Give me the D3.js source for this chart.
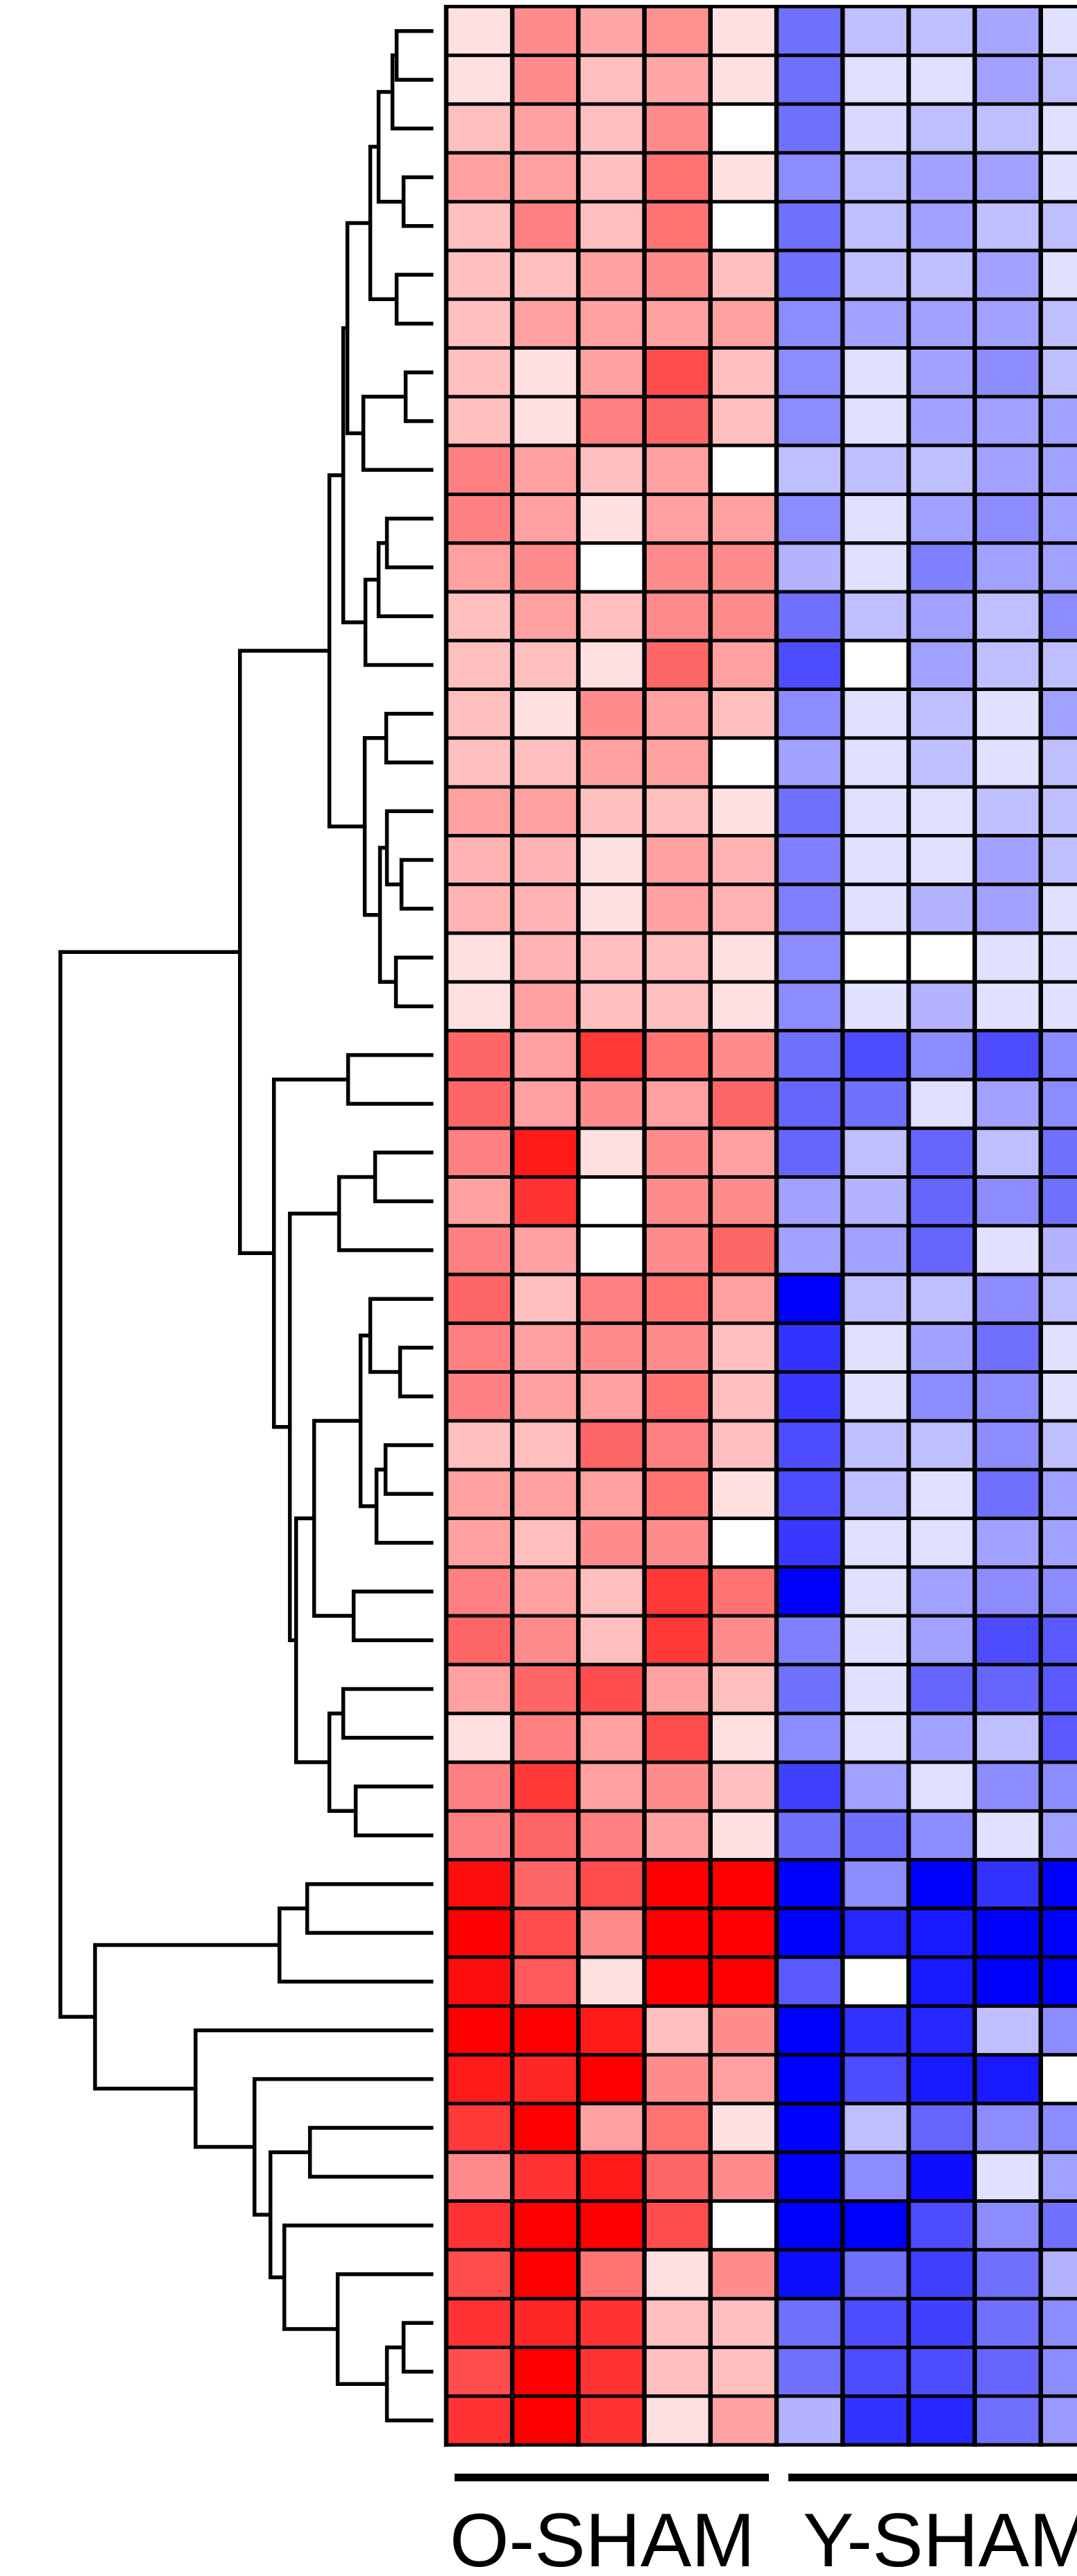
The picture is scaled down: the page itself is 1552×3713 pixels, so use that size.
<!DOCTYPE html>
<html>
<head>
<meta charset="utf-8">
<script src="https://cdn.jsdelivr.net/npm/d3@7/dist/d3.min.js"></script>
<style>
  html, body { margin: 0; padding: 0; background: #ffffff; }
  svg { display: block; }
</style>
</head>
<body>
<svg id="chart" width="1552" height="3713"></svg>
<script>
// ---- data -------------------------------------------------------------
// sample groups and the columns that belong to them
const groups = ["O-SHAM", "Y-SHAM"];
const oShamSamples = ["O1", "O2", "O3", "O4", "O5"];
const yShamSamples = ["Y1", "Y2", "Y3", "Y4", "Y5"];

// row-scaled expression (-1 = lowest, +1 = highest), rows in dendrogram order
const oShamValues = [
  [0.12, 0.45, 0.35, 0.43, 0.12],
  [0.12, 0.45, 0.25, 0.35, 0.12],
  [0.25, 0.37, 0.25, 0.45, 0.00],
  [0.37, 0.37, 0.25, 0.55, 0.12],
  [0.25, 0.50, 0.25, 0.55, 0.00],
  [0.25, 0.25, 0.37, 0.45, 0.25],
  [0.25, 0.37, 0.37, 0.37, 0.37],
  [0.25, 0.12, 0.37, 0.70, 0.25],
  [0.25, 0.12, 0.50, 0.60, 0.25],
  [0.50, 0.37, 0.25, 0.37, 0.00],
  [0.50, 0.37, 0.12, 0.37, 0.37],
  [0.37, 0.45, 0.00, 0.45, 0.45],
  [0.25, 0.37, 0.25, 0.45, 0.45],
  [0.25, 0.25, 0.12, 0.60, 0.37],
  [0.25, 0.12, 0.45, 0.37, 0.25],
  [0.25, 0.25, 0.37, 0.37, 0.00],
  [0.37, 0.37, 0.25, 0.25, 0.12],
  [0.30, 0.30, 0.12, 0.37, 0.30],
  [0.30, 0.30, 0.12, 0.37, 0.30],
  [0.12, 0.30, 0.25, 0.25, 0.12],
  [0.12, 0.37, 0.25, 0.25, 0.12],
  [0.60, 0.37, 0.78, 0.55, 0.45],
  [0.60, 0.37, 0.45, 0.37, 0.60],
  [0.50, 0.90, 0.12, 0.45, 0.37],
  [0.37, 0.80, 0.00, 0.45, 0.45],
  [0.50, 0.37, 0.00, 0.45, 0.60],
  [0.60, 0.25, 0.50, 0.55, 0.37],
  [0.50, 0.37, 0.45, 0.45, 0.25],
  [0.50, 0.37, 0.37, 0.55, 0.25],
  [0.25, 0.25, 0.60, 0.50, 0.25],
  [0.37, 0.37, 0.37, 0.55, 0.12],
  [0.37, 0.25, 0.45, 0.45, 0.00],
  [0.50, 0.37, 0.25, 0.78, 0.55],
  [0.60, 0.45, 0.25, 0.78, 0.45],
  [0.37, 0.60, 0.70, 0.37, 0.25],
  [0.12, 0.50, 0.37, 0.70, 0.12],
  [0.50, 0.78, 0.37, 0.45, 0.25],
  [0.50, 0.60, 0.50, 0.37, 0.12],
  [0.95, 0.60, 0.70, 1.00, 1.00],
  [1.00, 0.70, 0.45, 1.00, 1.00],
  [0.95, 0.65, 0.12, 1.00, 1.00],
  [1.00, 1.00, 0.90, 0.25, 0.45],
  [0.90, 0.85, 1.00, 0.45, 0.37],
  [0.78, 1.00, 0.37, 0.55, 0.12],
  [0.45, 0.80, 0.90, 0.60, 0.45],
  [0.80, 1.00, 1.00, 0.70, 0.00],
  [0.70, 1.00, 0.55, 0.12, 0.45],
  [0.80, 0.85, 0.80, 0.25, 0.25],
  [0.70, 1.00, 0.80, 0.25, 0.25],
  [0.80, 1.00, 0.80, 0.12, 0.37]
];

const yShamValues = [
  [-0.56, -0.25, -0.25, -0.35, -0.12],
  [-0.56, -0.12, -0.12, -0.37, -0.25],
  [-0.56, -0.15, -0.25, -0.25, -0.12],
  [-0.45, -0.25, -0.37, -0.37, -0.12],
  [-0.56, -0.25, -0.37, -0.25, -0.25],
  [-0.56, -0.25, -0.25, -0.37, -0.12],
  [-0.45, -0.37, -0.37, -0.37, -0.25],
  [-0.45, -0.12, -0.37, -0.45, -0.25],
  [-0.45, -0.12, -0.37, -0.37, -0.37],
  [-0.25, -0.25, -0.25, -0.37, -0.37],
  [-0.45, -0.12, -0.37, -0.45, -0.37],
  [-0.30, -0.12, -0.50, -0.37, -0.37],
  [-0.56, -0.25, -0.37, -0.25, -0.45],
  [-0.70, 0.00, -0.37, -0.25, -0.25],
  [-0.45, -0.12, -0.25, -0.12, -0.37],
  [-0.37, -0.12, -0.25, -0.12, -0.25],
  [-0.56, -0.12, -0.12, -0.25, -0.25],
  [-0.50, -0.12, -0.12, -0.37, -0.25],
  [-0.50, -0.12, -0.30, -0.37, -0.12],
  [-0.45, 0.00, 0.00, -0.12, -0.12],
  [-0.45, -0.12, -0.30, -0.12, -0.12],
  [-0.56, -0.70, -0.45, -0.70, -0.45],
  [-0.60, -0.56, -0.12, -0.37, -0.45],
  [-0.60, -0.25, -0.60, -0.25, -0.56],
  [-0.37, -0.30, -0.60, -0.45, -0.56],
  [-0.37, -0.37, -0.60, -0.12, -0.30],
  [-1.00, -0.25, -0.25, -0.45, -0.25],
  [-0.80, -0.12, -0.37, -0.56, -0.12],
  [-0.78, -0.12, -0.45, -0.45, -0.12],
  [-0.70, -0.25, -0.25, -0.45, -0.25],
  [-0.70, -0.25, -0.12, -0.56, -0.37],
  [-0.78, -0.12, -0.12, -0.37, -0.37],
  [-1.00, -0.12, -0.37, -0.45, -0.45],
  [-0.50, -0.12, -0.37, -0.70, -0.65],
  [-0.56, -0.12, -0.60, -0.60, -0.65],
  [-0.45, -0.12, -0.37, -0.25, -0.65],
  [-0.75, -0.37, -0.12, -0.45, -0.45],
  [-0.56, -0.56, -0.45, -0.12, -0.37],
  [-1.00, -0.45, -1.00, -0.80, -1.00],
  [-1.00, -0.85, -0.90, -1.00, -1.00],
  [-0.65, 0.00, -0.90, -1.00, -1.00],
  [-1.00, -0.80, -0.85, -0.25, -0.45],
  [-1.00, -0.70, -0.90, -0.90, 0.00],
  [-1.00, -0.25, -0.60, -0.45, -0.45],
  [-1.00, -0.45, -0.95, -0.12, -0.37],
  [-1.00, -1.00, -0.70, -0.45, -0.56],
  [-0.95, -0.56, -0.75, -0.56, -0.30],
  [-0.56, -0.70, -0.75, -0.56, -0.45],
  [-0.56, -0.70, -0.70, -0.60, -0.45],
  [-0.30, -0.80, -0.85, -0.56, -0.40]
];

// hierarchical clustering of the rows: [childA, childB, height]
// ids 0..49 are rows, id 50 + k is the k-th merge
const rowMerges = [
  [0, 1, 0.53],    // 50
  [50, 2, 0.59],   // 51
  [3, 4, 0.43],    // 52
  [51, 52, 0.79],  // 53
  [5, 6, 0.53],    // 54
  [53, 54, 0.91],  // 55
  [7, 8, 0.40],    // 56
  [56, 9, 1.01],   // 57
  [55, 57, 1.24],  // 58
  [10, 11, 0.67],  // 59
  [59, 12, 0.79],  // 60
  [60, 13, 0.98],  // 61
  [58, 61, 1.30],  // 62
  [14, 15, 0.68],  // 63
  [17, 18, 0.46],  // 64
  [16, 64, 0.67],  // 65
  [19, 20, 0.54],  // 66
  [65, 66, 0.77],  // 67
  [63, 67, 0.99],  // 68
  [62, 68, 1.50],  // 69
  [21, 22, 1.23],  // 70
  [23, 24, 0.84],  // 71
  [71, 25, 1.36],  // 72
  [27, 28, 0.48],  // 73
  [26, 73, 0.91],  // 74
  [29, 30, 0.69],  // 75
  [75, 31, 0.82],  // 76
  [74, 76, 1.05],  // 77
  [32, 33, 1.15],  // 78
  [77, 78, 1.72],  // 79
  [34, 35, 1.30],  // 80
  [36, 37, 1.12],  // 81
  [80, 81, 1.50],  // 82
  [79, 82, 1.98],  // 83
  [72, 83, 2.07],  // 84
  [70, 84, 2.30],  // 85
  [69, 85, 2.79],  // 86
  [38, 39, 1.82],  // 87
  [87, 40, 2.22],  // 88
  [43, 44, 1.78],  // 89
  [47, 48, 0.43],  // 90
  [90, 49, 0.67],  // 91
  [46, 91, 1.38],  // 92
  [45, 92, 2.15],  // 93
  [89, 93, 2.35],  // 94
  [42, 94, 2.58],  // 95
  [41, 95, 3.43],  // 96
  [88, 96, 4.88],  // 97
  [86, 97, 5.38]   // 98 (root)
];

// ---- layout -----------------------------------------------------------
const svg = d3.select("#chart");

const samples = oShamSamples.concat(yShamSamples);
const nRows = oShamValues.length;
const rowIds = d3.range(nRows);
const cells = [];
rowIds.forEach(r => {
  oShamSamples.forEach((s, c) => cells.push({ row: r, sample: s, value: oShamValues[r][c] }));
  yShamSamples.forEach((s, c) => cells.push({ row: r, sample: s, value: yShamValues[r][c] }));
});

const heatLeft = 643, colWidth = 95.2;
const heatTop = 9.5, heatBottom = 3524;

const x = d3.scaleBand().domain(samples).range([heatLeft, heatLeft + colWidth * samples.length]).padding(0);
const y = d3.scaleBand().domain(rowIds).range([heatTop, heatBottom]).padding(0);
const color = d3.scaleLinear().domain([-1, 0, 1]).range(["#0000ff", "#ffffff", "#ff0000"]).clamp(true);

// dendrogram height axis grows to the left, leaves end just before the cells
const maxHeight = d3.max(rowMerges, d => d[2]);
const hx = d3.scaleLinear().domain([0, maxHeight]).range([624.5, 87]);

// ---- heatmap cells ----------------------------------------------------
const heat = svg.append("g").attr("class", "heatmap");
heat.selectAll("rect.cell")
  .data(cells)
  .join("rect")
  .attr("class", "cell")
  .attr("x", d => x(d.sample))
  .attr("y", d => y(d.row))
  .attr("width", x.bandwidth())
  .attr("height", y.bandwidth())
  .attr("fill", d => color(d.value));

// cell borders: row separators are a little thinner than column separators
const gridRight = heatLeft + colWidth * samples.length;
heat.selectAll("line.rowline")
  .data(d3.range(nRows + 1))
  .join("line")
  .attr("class", "rowline")
  .attr("x1", heatLeft - 3).attr("x2", gridRight + 3)
  .attr("y1", i => heatTop + i * y.step())
  .attr("y2", i => heatTop + i * y.step())
  .attr("stroke", "#000").attr("stroke-width", 5);

heat.selectAll("line.colline")
  .data(d3.range(samples.length + 1))
  .join("line")
  .attr("class", "colline")
  .attr("x1", i => heatLeft + i * x.step())
  .attr("x2", i => heatLeft + i * x.step())
  .attr("y1", heatTop - 2.5).attr("y2", heatBottom + 2.5)
  .attr("stroke", "#000").attr("stroke-width", 6.5);

// ---- row dendrogram ---------------------------------------------------
const nodeY = rowIds.map(r => y(r) + y.bandwidth() / 2);
const nodeH = rowIds.map(() => 0);
const links = [];
rowMerges.forEach(([a, b, h], k) => {
  const id = nRows + k;
  nodeY[id] = (nodeY[a] + nodeY[b]) / 2;
  nodeH[id] = h;
  links.push({ a, b, h });
});

svg.append("g").attr("class", "dendrogram")
  .selectAll("path")
  .data(links)
  .join("path")
  .attr("d", d => {
    const xn = hx(d.h);
    return `M${hx(nodeH[d.a])},${nodeY[d.a]}H${xn}V${nodeY[d.b]}H${hx(nodeH[d.b])}`;
  })
  .attr("fill", "none")
  .attr("stroke", "#000")
  .attr("stroke-width", 5.5)
  .attr("stroke-linejoin", "miter")
  .attr("stroke-linecap", "butt");

// ---- group bars and labels --------------------------------------------
const groupSamples = [oShamSamples, yShamSamples];
const labels = svg.append("g").attr("class", "groups");
groups.forEach((g, i) => {
  const s = groupSamples[i];
  const x0 = x(s[0]);
  const x1 = x(s[s.length - 1]) + x.bandwidth();
  labels.append("line")
    .attr("x1", x0 + (i === 0 ? 12 : 17)).attr("x2", x1 - 11)
    .attr("y1", 3571).attr("y2", 3571)
    .attr("stroke", "#000").attr("stroke-width", 11);
  labels.append("text")
    .attr("x", x0 + (i === 0 ? 5 : 38))
    .attr("y", 3699)
    .attr("font-family", "'Liberation Sans', Arial, sans-serif")
    .attr("font-size", 110)
    .attr("fill", "#000")
    .text(g);
});
</script>
</body>
</html>
